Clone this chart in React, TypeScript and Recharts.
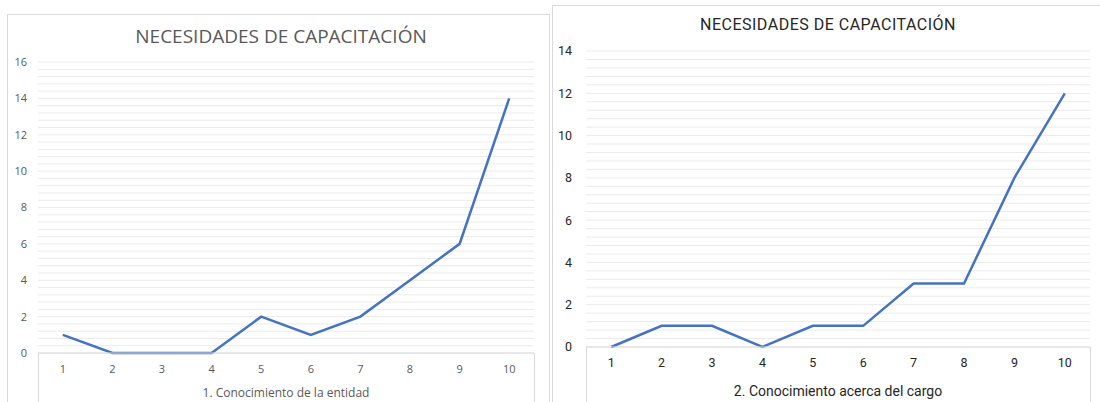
import { LineChart, Line, XAxis, YAxis, CartesianGrid } from 'recharts';

// Puntajes 1..10 de cada pregunta de la encuesta
const categories = ['1', '2', '3', '4', '5', '6', '7', '8', '9', '10'];
const entidadValues = [1, 0, 0, 0, 2, 1, 2, 4, 6, 14];
const cargoValues = [0, 1, 1, 0, 1, 1, 3, 3, 8, 12];
const entidadTicks = [0, 2, 4, 6, 8, 10, 12, 14, 16];
const cargoTicks = [0, 2, 4, 6, 8, 10, 12, 14];

const TITLE = 'NECESIDADES DE CAPACITACIÓN';
const LINE_COLOR = '#4472C4';
const GRID_COLOR = '#ebebeb';
const BORDER_COLOR = '#d9d9d9';
const GRID_STEP = 0.4;

// líneas de la cuadrícula cada 0.4, en píxeles dentro del área de trazado
const gridGenerator = (max: number) => ({ offset }: any) => {
  const count = Math.round(max / GRID_STEP);
  return Array.from({ length: count + 1 }, (_, i) => offset.top + (offset.height * i) / count);
};

const entidadData = categories.map((name, i) => ({ name, value: entidadValues[i] }));
const cargoData = categories.map((name, i) => ({ name, value: cargoValues[i] }));

const abs = (left: number, top: number, width: number, height: number) => ({
  position: 'absolute' as const,
  left,
  top,
  width,
  height,
});

function VLine({ x, top, bottom }: { x: number; top: number; bottom: number }) {
  return <div style={{ ...abs(x, top, 1, bottom - top), background: BORDER_COLOR }} />;
}

export default function App() {
  return (
    <div
      style={{
        position: 'fixed',
        left: 0,
        top: 0,
        width: 1100,
        height: 402,
        overflow: 'hidden',
        background: '#fff',
      }}
    >
      {/* 1. Conocimiento de la entidad */}
      <div style={{ ...abs(7, 14, 543, 400), border: `1px solid ${BORDER_COLOR}`, boxSizing: 'border-box' }} />
      <div
        style={{
          ...abs(81, 22, 400, 28),
          textAlign: 'center',
          fontFamily: '"Open Sans", sans-serif',
          fontSize: 19,
          color: '#595959',
          lineHeight: '28px',
        }}
      >
        {TITLE}
      </div>
      <div style={abs(8, 15, 540, 387)}>
        <LineChart
          width={540}
          height={387}
          data={entidadData}
          margin={{ top: 47, right: 14, bottom: 0, left: 0 }}
        >
          <CartesianGrid
            vertical={false}
            stroke={GRID_COLOR}
            horizontalCoordinatesGenerator={gridGenerator(16)}
          />
          <XAxis
            dataKey="name"
            interval={0}
            padding={{ left: 24.8, right: 24.8 }}
            axisLine={{ stroke: BORDER_COLOR }}
            tickLine={false}
            tickSize={0}
            tickMargin={12}
            height={49}
            tick={{ fontSize: 11, fill: '#595959', fontFamily: '"Open Sans", sans-serif' }}
            label={{
              value: '1. Conocimiento de la entidad',
              position: 'insideBottom',
              offset: 5,
              fontSize: 12,
              fill: '#595959',
              fontFamily: '"Open Sans", sans-serif',
            }}
          />
          <YAxis
            domain={[0, 16]}
            ticks={entidadTicks}
            width={30}
            axisLine={false}
            tickLine={false}
            tickSize={0}
            tickMargin={11}
            tick={{ fontSize: 11, fill: '#595959', fontFamily: '"Open Sans", sans-serif' }}
          />
          <Line
            type="linear"
            dataKey="value"
            stroke={LINE_COLOR}
            strokeWidth={2.5}
            dot={false}
            isAnimationActive={false}
          />
        </LineChart>
      </div>
      <VLine x={38} top={353} bottom={402} />
      <VLine x={534} top={353} bottom={402} />

      {/* 2. Conocimiento acerca del cargo */}
      <div style={{ ...abs(552, 5, 560, 410), border: `1px solid ${BORDER_COLOR}`, boxSizing: 'border-box' }} />
      <div
        style={{
          ...abs(628, 12, 400, 26),
          textAlign: 'center',
          fontFamily: 'Roboto, sans-serif',
          fontSize: 16,
          color: '#262626',
          lineHeight: '26px',
          letterSpacing: 0.5,
        }}
      >
        {TITLE}
      </div>
      <div style={abs(553, 6, 547, 396)}>
        <LineChart
          width={547}
          height={396}
          data={cargoData}
          margin={{ top: 45, right: 10, bottom: 0, left: 0 }}
        >
          <CartesianGrid
            vertical={false}
            stroke={GRID_COLOR}
            horizontalCoordinatesGenerator={gridGenerator(14)}
          />
          <XAxis
            dataKey="name"
            interval={0}
            padding={{ left: 25.2, right: 25.2 }}
            axisLine={{ stroke: BORDER_COLOR }}
            tickLine={false}
            tickSize={0}
            tickMargin={11}
            height={55}
            tick={{ fontSize: 12.5, fill: '#262626', fontFamily: 'Roboto, sans-serif' }}
            label={{
              value: '2. Conocimiento acerca del cargo',
              position: 'insideBottom',
              offset: 6,
              fontSize: 14,
              fill: '#262626',
              fontFamily: 'Roboto, sans-serif',
            }}
          />
          <YAxis
            domain={[0, 14]}
            ticks={cargoTicks}
            width={33}
            axisLine={false}
            tickLine={false}
            tickSize={0}
            tickMargin={14}
            tick={{ fontSize: 12.5, fill: '#262626', fontFamily: 'Roboto, sans-serif' }}
          />
          <Line
            type="linear"
            dataKey="value"
            stroke={LINE_COLOR}
            strokeWidth={2.5}
            dot={false}
            isAnimationActive={false}
          />
        </LineChart>
      </div>
      <VLine x={586} top={347} bottom={402} />
      <VLine x={1090} top={347} bottom={402} />
    </div>
  );
}
